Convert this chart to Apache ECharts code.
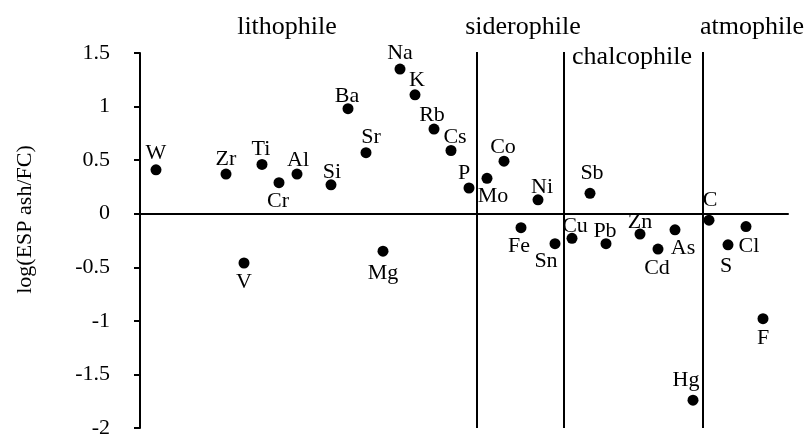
<!DOCTYPE html>
<html lang="en">
  <head>
    <meta charset="UTF-8" />
    <title>log(ESP ash/FC)</title>
    <style>
      html,
      body {
        margin: 0;
        background: #fff;
      }
      #main {
        width: 811px;
        height: 439px;
      }
    </style>
  </head>
  <body>
    <div id="main"></div>
    <script src="https://cdn.jsdelivr.net/npm/echarts@6/dist/echarts.min.js"></script>
    <script>
      // elements, position along the (unlabelled) x axis, and log ratio
      const elements = ["W", "Zr", "Ti", "Cr", "Al", "Si", "Ba", "Sr", "Na", "K", "Rb", "Cs", "P", "Mo", "Co", "Ni", "Sb", "C", "Fe", "Sn", "Cu", "Pb", "Zn", "As", "Cd", "Hg", "S", "Cl", "F", "V", "Mg"];
      const xPos = [1.6, 8.6, 12.2, 13.9, 15.7, 19.1, 20.8, 22.6, 26.0, 27.5, 29.4, 31.1, 32.9, 34.7, 36.4, 39.8, 45.0, 56.9, 38.1, 41.5, 43.2, 46.6, 50.0, 53.5, 51.8, 55.3, 58.8, 60.6, 62.3, 10.4, 24.3];
      const logRatio = [0.41, 0.37, 0.46, 0.29, 0.37, 0.27, 0.98, 0.57, 1.35, 1.11, 0.79, 0.59, 0.24, 0.33, 0.49, 0.13, 0.19, -0.06, -0.13, -0.28, -0.23, -0.28, -0.19, -0.15, -0.33, -1.74, -0.29, -0.12, -0.98, -0.46, -0.35];
      const groupNames = ["lithophile", "siderophile", "chalcophile", "atmophile"];
      const groupBounds = [33.7, 42.4, 56.3];
      const yTicks = [-2, -1.5, -1, -0.5, 0, 0.5, 1, 1.5];

      // where each element's name sits relative to its dot (px)
      const labelOffset = {
        W: [0, -17], Zr: [0, -15], Ti: [-1, -15], Cr: [-1, 19], Al: [1, -14],
        Si: [1, -13], Ba: [-1, -12], Sr: [5, -15], Na: [0, -16], K: [2, -15],
        Rb: [-2, -14], Cs: [4, -13], P: [-5, -15], Mo: [6, 18], Co: [-1, -14],
        Ni: [4, -13], Sb: [2, -20], C: [1, -20], Fe: [-2, 19], Sn: [-9, 18],
        Cu: [3, -12], Pb: [-1, -12], Zn: [0, -12], As: [8, 18], Cd: [-1, 19],
        Hg: [-7, -20], S: [-2, 21], Cl: [3, 20], F: [0, 20], V: [0, 19], Mg: [0, 22],
      };
      // group heading placement (px)
      const groupPos = [[287, 27], [523, 27], [632, 57], [752, 27]];

      const serif = "'Liberation Serif', 'DejaVu Serif', serif";
      const chart = echarts.init(document.getElementById("main"));

      const points = elements.map((el, i) => ({
        name: el,
        value: [xPos[i], logRatio[i]],
        label: { offset: labelOffset[el] },
      }));

      // vertical separators between the element groups
      const boundarySeries = groupBounds.map((b) => ({
        type: "line",
        silent: true,
        symbol: "none",
        lineStyle: { color: "#000", width: 2 },
        data: [
          [b, -2],
          [b, 1.53],
        ],
      }));

      const option = {
        backgroundColor: "#fff",
        animation: false,
        grid: { left: 140, right: 23, top: 53, bottom: 11, containLabel: false },
        xAxis: {
          type: "value",
          min: 0,
          max: 64.8,
          axisLine: { show: true, onZero: true, lineStyle: { color: "#000", width: 2 } },
          axisTick: { show: false },
          axisLabel: { show: false },
          splitLine: { show: false },
        },
        yAxis: {
          type: "value",
          min: -2,
          max: 1.5,
          interval: 0.5,
          name: "log(ESP ash/FC)",
          nameLocation: "middle",
          nameGap: 104,
          nameTextStyle: { fontFamily: serif, fontSize: 22, color: "#000", padding: [0, 0, 0, 42] },
          axisLine: { show: true, onZero: false, lineStyle: { color: "#000", width: 2 } },
          axisTick: { show: true, length: 6, lineStyle: { color: "#000", width: 2 } },
          axisLabel: {
            margin: 30,
            fontFamily: serif,
            fontSize: 22,
            color: "#000",
            formatter: (v) => (yTicks.includes(v) ? String(v) : ""),
          },
          splitLine: { show: false },
        },
        graphic: groupNames.map((g, i) => ({
          type: "text",
          x: groupPos[i][0],
          y: groupPos[i][1],
          style: {
            text: g,
            fontFamily: serif,
            fontSize: 26,
            fill: "#000",
            textAlign: "center",
            textVerticalAlign: "middle",
          },
        })),
        series: [
          ...boundarySeries,
          {
            type: "scatter",
            symbol: "circle",
            symbolSize: 11,
            itemStyle: { color: "#000", opacity: 1 },
            data: points,
            label: {
              show: true,
              position: "inside",
              formatter: "{b}",
              fontFamily: serif,
              fontSize: 22,
              color: "#000",
            },
          },
        ],
      };
      chart.setOption(option);
    </script>
  </body>
</html>
